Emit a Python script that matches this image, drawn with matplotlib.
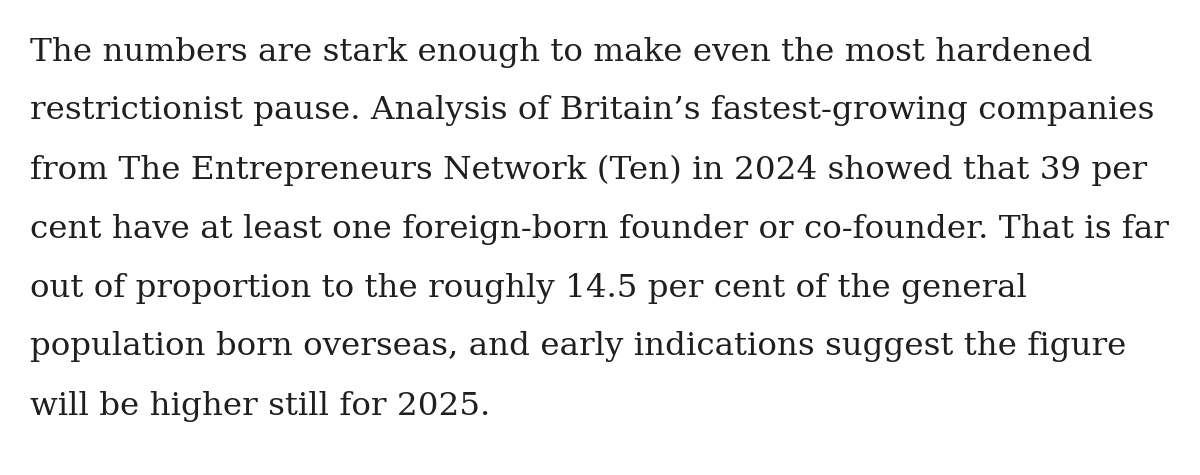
import matplotlib
matplotlib.use("Agg")
import matplotlib.pyplot as plt

# paragraph lines, as wrapped in the reference
lines = [
    "The numbers are stark enough to make even the most hardened",
    "restrictionist pause. Analysis of Britain\u2019s fastest-growing companies",
    "from The Entrepreneurs Network (Ten) in 2024 showed that 39 per",
    "cent have at least one foreign-born founder or co-founder. That is far",
    "out of proportion to the roughly 14.5 per cent of the general",
    "population born overseas, and early indications suggest the figure",
    "will be higher still for 2025.",
]

W, H = 1200, 475
fig = plt.figure(figsize=(W / 100, H / 100), dpi=100)
fig.patch.set_facecolor("white")

top_px = 52
step_px = 59
for i, line in enumerate(lines):
    y_px = top_px + i * step_px
    fig.text(30 / W, 1 - y_px / H, line, family="DejaVu Serif", fontsize=23.4,
             color="#1f1f1f", va="center", ha="left")

fig.savefig("out.png", dpi=100, facecolor="white")
